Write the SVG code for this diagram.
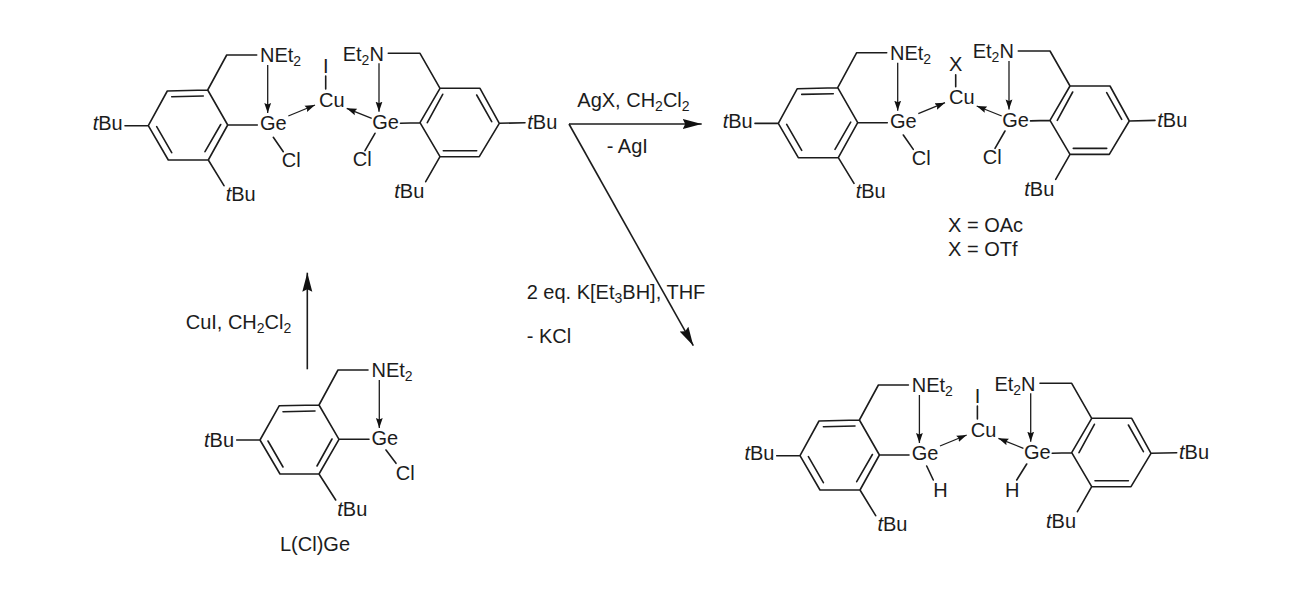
<svg xmlns="http://www.w3.org/2000/svg" xmlns:xlink="http://www.w3.org/1999/xlink" width="1300" height="600" viewBox="0 0 1300 600">
<style>
text{font-family:"Liberation Sans",Arial,sans-serif;font-size:20px;fill:#1c1c1c}
.i{font-style:italic}
.s{font-size:14px}
.b{fill:none;stroke:#1c1c1c;stroke-width:1.6;stroke-linecap:round;stroke-linejoin:round}
.d{fill:none;stroke:#1c1c1c;stroke-width:1.3;marker-end:url(#small)}
.r{fill:none;stroke:#1c1c1c;stroke-width:1.6;marker-end:url(#big)}
</style>
<defs>
<marker id="small" markerUnits="userSpaceOnUse" markerWidth="11" markerHeight="8" refX="10" refY="4" orient="auto"><path d="M0,0.6L10,4L0,7.400L1.500,4Z" fill="#111"/></marker>
<marker id="big" markerUnits="userSpaceOnUse" markerWidth="20" markerHeight="12" refX="19" refY="6" orient="auto"><path d="M0,1L19,6L0,11L2.500,6Z" fill="#111"/></marker>
<path id="dimer" class="b" d="M148.300,125.700L167.300,91L207.700,90L227.700,125L208.300,160L168.300,160Z M171.700,96.700L203.300,96 M220.700,124.500L205,151.700 M156.700,126.700L171.700,152.700 M207.700,90L226.700,55L256.700,55 M227.700,125L257.300,125 M125,125.700L148.300,125.700 M208.300,160L224,185.700 M388.300,53.300L420,53.300L440,88.300L480,88.300L499.300,123.300L479.300,156.700L440,156.700L420,122.700L440,88.300 M427.300,122.700L442.700,94.300 M476.700,95L491.700,121.700 M443.300,150.700L476.700,150.700 M400.500,123.200L420,122.700 M499.300,123.300L525,122.700 M440,156.700L425.700,181.700"/>
<g id="dative">
<path class="d" d="M267.700,65L267.700,113"/>
<path class="d" d="M288.300,116L315,105"/>
<path class="d" d="M371.700,118.300L346.700,108.300"/>
<path class="d" d="M379,63.300L379,111.700"/>
</g>
</defs>
<rect width="1300" height="600" fill="#fff"/>

<g id="connectors">
<path class="r" d="M307.300,369.300L307.300,272.700"/>
<path class="r" d="M569,124L701.700,124"/>
<path class="r" d="M569,124L693.300,345.700"/>
</g>

<g id="reagent-top">
<text x="577.300" y="106.700">AgX, CH<tspan class="s" dy="4">2</tspan><tspan dy="-4">Cl</tspan><tspan class="s" dy="4">2</tspan></text>
<text x="606.700" y="153.300">- AgI</text>
</g>
<g id="reagent-bottom">
<text x="526.700" y="299.300">2 eq. K[Et<tspan class="s" dy="4">3</tspan><tspan dy="-4">BH], THF</tspan></text>
<text x="526.700" y="343.300">- KCl</text>
</g>
<g id="reagent-left">
<text x="185.700" y="329">CuI, CH<tspan class="s" dy="4">2</tspan><tspan dy="-4">Cl</tspan><tspan class="s" dy="4">2</tspan></text>
</g>

<g id="complex-cl">
<use xlink:href="#dimer" href="#dimer"/>
<use xlink:href="#dative" href="#dative"/>
<path class="b" d="M325.700,76L325.700,89 M273.300,137.300L283.300,151.700 M375,133.300L365,150.700"/>
<text x="260" y="62">NEt<tspan class="s" dy="4">2</tspan></text>
<text x="342.700" y="60.700">Et<tspan class="s" dy="4">2</tspan><tspan dy="-4">N</tspan></text>
<text x="260" y="130">Ge</text>
<text x="372.300" y="129">Ge</text>
<text x="319" y="106.700">Cu</text>
<text x="323" y="73.300">I</text>
<text x="92.700" y="130"><tspan class="i">t</tspan>Bu</text>
<text x="527.300" y="129"><tspan class="i">t</tspan>Bu</text>
<text x="225.700" y="200.700"><tspan class="i">t</tspan>Bu</text>
<text x="394.300" y="198.300"><tspan class="i">t</tspan>Bu</text>
<text x="281.700" y="167">Cl</text>
<text x="352.700" y="166">Cl</text>
</g>

<g id="complex-x" transform="translate(630,-2.300)">
<use xlink:href="#dimer" href="#dimer"/>
<use xlink:href="#dative" href="#dative"/>
<path class="b" d="M325.700,77L325.700,89 M273.300,137.300L283.300,151.700 M375,133.300L365,150.700"/>
<text x="260" y="62">NEt<tspan class="s" dy="4">2</tspan></text>
<text x="342.700" y="60.700">Et<tspan class="s" dy="4">2</tspan><tspan dy="-4">N</tspan></text>
<text x="260" y="130">Ge</text>
<text x="372.300" y="129">Ge</text>
<text x="319" y="106.700">Cu</text>
<text x="319" y="73">X</text>
<text x="92.700" y="130"><tspan class="i">t</tspan>Bu</text>
<text x="527.300" y="129"><tspan class="i">t</tspan>Bu</text>
<text x="225.700" y="200.700"><tspan class="i">t</tspan>Bu</text>
<text x="394.300" y="198.300"><tspan class="i">t</tspan>Bu</text>
<text x="281.700" y="167">Cl</text>
<text x="352.700" y="166">Cl</text>
</g>
<g id="x-legend">
<text x="948" y="232">X = OAc</text>
<text x="948" y="256">X = OTf</text>
</g>

<g id="complex-h" transform="translate(651.700,330)">
<use xlink:href="#dimer" href="#dimer"/>
<use xlink:href="#dative" href="#dative"/>
<path class="b" d="M325.700,76L325.700,89 M275,136L281.600,150 M375,134L365,150"/>
<text x="260" y="62">NEt<tspan class="s" dy="4">2</tspan></text>
<text x="342.700" y="60.700">Et<tspan class="s" dy="4">2</tspan><tspan dy="-4">N</tspan></text>
<text x="260" y="130">Ge</text>
<text x="372.300" y="129">Ge</text>
<text x="319" y="106.700">Cu</text>
<text x="323" y="73.300">I</text>
<text x="92.700" y="130"><tspan class="i">t</tspan>Bu</text>
<text x="527.300" y="129"><tspan class="i">t</tspan>Bu</text>
<text x="225.700" y="200.700"><tspan class="i">t</tspan>Bu</text>
<text x="394.300" y="198.300"><tspan class="i">t</tspan>Bu</text>
<text x="281.600" y="167.300">H</text>
<text x="353.300" y="166.700">H</text>
</g>

<g id="monomer">
<path class="b" d="M260,440L279.300,405.700L319,405L339,439.300L319,474L280,474Z M283,411.700L315,411 M332,439L317,466 M268,441L283,467 M319,405L338,370L368,370 M339,439.300L369,439.300 M236.700,440L260,440 M386,450L396,463.300 M319,474L335.700,500"/>
<path d="M379.300,380L379.300,428" class="d"/>
<text x="371.500" y="376.500">NEt<tspan class="s" dy="4">2</tspan></text>
<text x="371.500" y="445">Ge</text>
<text x="395.700" y="480">Cl</text>
<text x="204" y="446.700"><tspan class="i">t</tspan>Bu</text>
<text x="337.300" y="515.700"><tspan class="i">t</tspan>Bu</text>
<text x="280" y="550.700">L(Cl)Ge</text>
</g>
</svg>
